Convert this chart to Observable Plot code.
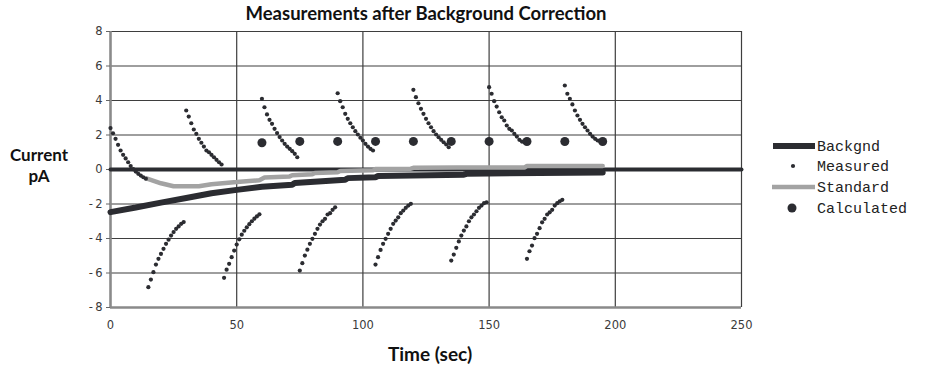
<!DOCTYPE html>
<html><head><meta charset="utf-8">
<script src="https://cdn.jsdelivr.net/npm/d3@7"></script>
<script src="https://cdn.jsdelivr.net/npm/@observablehq/plot@0.6"></script>
<style>body{margin:0;background:#fff}</style>
</head><body><div id="chart"></div>
<script>
// Measured: 15 samples (1 per second) per 15-second segment
const measuredStarts = [0, 15, 30, 45, 60, 75, 90, 105, 120, 135, 150, 165, 180];
const measuredSegments = [
  [2.4, 2.1, 1.78, 1.43, 1.1, 0.85, 0.64, 0.42, 0.2, 0.02, -0.12, -0.25, -0.35, -0.45, -0.53],
  [-6.82, -6.38, -5.95, -5.51, -5.18, -4.89, -4.6, -4.31, -4.07, -3.83, -3.63, -3.44, -3.3, -3.15, -3.05],
  [3.42, 3.07, 2.68, 2.32, 2.07, 1.78, 1.55, 1.33, 1.1, 1.0, 0.85, 0.71, 0.56, 0.42, 0.29],
  [-6.28, -5.81, -5.47, -5.08, -4.7, -4.35, -4.05, -3.78, -3.55, -3.35, -3.17, -3.0, -2.85, -2.72, -2.6],
  [4.1, 3.61, 3.19, 2.88, 2.65, 2.36, 2.11, 1.88, 1.68, 1.49, 1.33, 1.2, 1.06, 0.91, 0.71],
  [-5.86, -5.43, -4.99, -4.65, -4.31, -4.02, -3.73, -3.44, -3.19, -3.0, -2.86, -2.61, -2.53, -2.34, -2.19],
  [4.42, 3.96, 3.61, 3.23, 2.94, 2.68, 2.45, 2.22, 2.03, 1.84, 1.68, 1.49, 1.33, 1.2, 1.1],
  [-5.51, -5.08, -4.66, -4.31, -4.02, -3.73, -3.44, -3.15, -2.96, -2.77, -2.53, -2.38, -2.22, -2.09, -1.99],
  [4.62, 4.19, 3.84, 3.52, 3.23, 2.94, 2.68, 2.45, 2.22, 2.03, 1.87, 1.72, 1.58, 1.45, 1.29],
  [-5.28, -4.93, -4.54, -4.17, -3.83, -3.54, -3.3, -3.0, -2.77, -2.61, -2.42, -2.22, -2.09, -1.95, -1.9],
  [4.77, 4.39, 3.96, 3.65, 3.32, 3.03, 2.84, 2.55, 2.36, 2.26, 2.07, 1.91, 1.72, 1.62, 1.58],
  [-5.18, -4.74, -4.41, -3.98, -3.73, -3.4, -3.06, -2.86, -2.61, -2.48, -2.34, -2.09, -1.95, -1.84, -1.76],
  [4.87, 4.39, 4.1, 3.77, 3.42, 3.13, 2.88, 2.65, 2.45, 2.26, 2.07, 1.91, 1.78, 1.68, 1.64]
];

const backgndTime  = [0, 10, 20, 30, 40, 50, 60, 72, 73, 93, 94, 105, 106, 140, 141, 170, 195];
const backgndValue = [-2.47, -2.2, -1.92, -1.65, -1.38, -1.18, -1.0, -0.88, -0.78, -0.6, -0.5, -0.45, -0.38, -0.3, -0.25, -0.2, -0.18];

const standardTime  = [14.5, 20, 25, 35, 40, 50, 59, 61, 71, 72, 80, 81, 90, 91, 104, 105, 119, 120, 137, 164, 165, 195];
const standardValue = [-0.53, -0.8, -0.97, -0.97, -0.85, -0.73, -0.62, -0.47, -0.4, -0.33, -0.27, -0.2, -0.16, -0.09, -0.05, 0.03, 0.05, 0.1, 0.12, 0.12, 0.2, 0.2];

const calculatedTime  = [60, 75, 90, 105, 120, 135, 150, 165, 180, 195];
const calculatedValue = [1.55, 1.63, 1.63, 1.63, 1.63, 1.63, 1.63, 1.62, 1.62, 1.62];

const zeroTime = [0, 250];
const zeroValue = [0, 0];

const xTicks = [0, 50, 100, 150, 200, 250];
const yTicks = [-8, -6, -4, -2, 0, 2, 4, 6, 8];

const legendLabels = ["Backgnd", "Measured", "Standard", "Calculated"];

const measured = measuredSegments.flatMap((seg, k) => seg.map((v, i) => ({t: measuredStarts[k] + i, v})));
const backgnd = backgndTime.map((t, i) => ({t, v: backgndValue[i]}));
const standard = standardTime.map((t, i) => ({t, v: standardValue[i]}));
const calculated = calculatedTime.map((t, i) => ({t, v: calculatedValue[i]}));
const zero = zeroTime.map((t, i) => ({t, v: zeroValue[i]}));

const dark = "#2b2c31";
const grey = "#a3a3a3";
const fmt = d => d < 0 ? "-\u2009" + Math.abs(d) : String(d);

const svg = Plot.plot({
  width: 936, height: 372,
  marginLeft: 110, marginRight: 195, marginTop: 31, marginBottom: 65,
  style: {fontFamily: "DejaVu Sans", fontSize: "11.5px", color: "#333", background: "#fff"},
  x: {domain: [0, 250], ticks: xTicks},
  y: {domain: [-8, 8], ticks: yTicks},
  marks: [
    Plot.gridY(yTicks, {stroke: "#3e3e3e", strokeOpacity: 1, strokeWidth: 1.2}),
    Plot.gridX(xTicks, {stroke: "#3e3e3e", strokeOpacity: 1, strokeWidth: 1.2}),
    Plot.ruleX([0], {stroke: "#8a8a8a", strokeWidth: 2.5}),
    Plot.ruleY([-8], {stroke: "#8a8a8a", strokeWidth: 2.5}),
    Plot.axisY(yTicks, {tickSize: 4, tickPadding: 4, tickFormat: fmt, fill: "#3a3a3a", stroke: "#666", fontSize: 11.5, label: null}),
    Plot.axisX(xTicks, {tickSize: 0, tickPadding: 13, fill: "#3a3a3a", fontSize: 11.5, label: null}),
    Plot.line(zero, {x: "t", y: "v", stroke: dark, strokeWidth: 4}),
    Plot.line(standard, {x: "t", y: "v", stroke: grey, strokeWidth: 4.5, strokeLinejoin: "miter"}),
    Plot.line(backgnd, {x: "t", y: "v", stroke: dark, strokeWidth: 6, strokeLinejoin: "miter"}),
    Plot.dot(measured, {x: "t", y: "v", r: 2.1, fill: dark, stroke: "none"}),
    Plot.dot(calculated, {x: "t", y: "v", r: 4.5, fill: dark, stroke: "none"})
  ]
});

const s = d3.select(svg);
s.append("text").attr("x", 426).attr("y", 20).attr("text-anchor", "middle")
  .attr("font-family", "Lato").attr("font-weight", "bold").attr("font-size", 18.5).attr("fill", "#111")
  .text("Measurements after Background Correction");
s.append("text").attr("x", 430).attr("y", 361).attr("text-anchor", "middle")
  .attr("font-family", "Lato").attr("font-weight", "bold").attr("font-size", 19).attr("fill", "#111")
  .text("Time (sec)");
s.append("text").attr("x", 39).attr("y", 161).attr("text-anchor", "middle")
  .attr("font-family", "Lato").attr("font-weight", "bold").attr("font-size", 17).attr("fill", "#111")
  .text("Current");
s.append("text").attr("x", 39).attr("y", 182).attr("text-anchor", "middle")
  .attr("font-family", "Lato").attr("font-weight", "bold").attr("font-size", 17).attr("fill", "#111")
  .text("pA");

const lg = s.append("g").attr("font-family", "Liberation Mono").attr("font-size", 15).attr("fill", "#222").attr("text-anchor", "start");
const ly = [146, 166, 187, 208];
legendLabels.forEach((lab, i) => {
  lg.append("text").attr("x", 817).attr("y", ly[i]).attr("dy", "0.35em").attr("text-anchor", "start").text(lab);
});
lg.append("line").attr("x1", 773).attr("x2", 815).attr("y1", ly[0]).attr("y2", ly[0]).attr("stroke", dark).attr("stroke-width", 6);
lg.append("circle").attr("cx", 793).attr("cy", ly[1]).attr("r", 2.1).attr("fill", dark);
lg.append("line").attr("x1", 772).attr("x2", 815).attr("y1", ly[2]).attr("y2", ly[2]).attr("stroke", grey).attr("stroke-width", 4.5);
lg.append("circle").attr("cx", 792).attr("cy", ly[3]).attr("r", 4.5).attr("fill", dark);

document.getElementById("chart").appendChild(svg);
</script>
</body></html>
